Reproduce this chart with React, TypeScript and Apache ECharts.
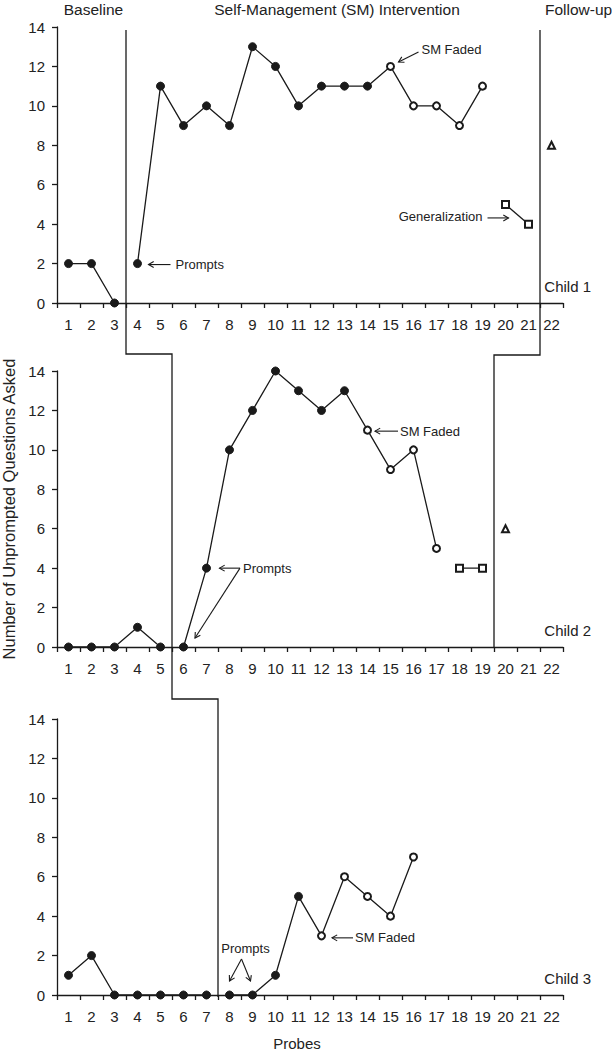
import React, { useEffect, useRef } from 'react';
import * as echarts from 'echarts';

// Probe numbers (x-axis categories)
const probes = ['1', '2', '3', '4', '5', '6', '7', '8', '9', '10', '11', '12', '13', '14', '15', '16', '17', '18', '19', '20', '21', '22'];

// Child 1
const c1Baseline = [2, 2, 0];
const c1Prompted = [2, 11, 9, 10, 9, 13, 12, 10, 11, 11, 11];
const c1Faded = [12, 10, 10, 9, 11];
const c1General = [5, 4];
const c1Follow = [8];
const c1Starts = [1, 4, 15, 20, 22]; // first probe of baseline, prompted, faded, generalization, follow-up

// Child 2
const c2Baseline = [0, 0, 0, 1, 0];
const c2Prompted = [0, 4, 10, 12, 14, 13, 12, 13];
const c2Faded = [11, 9, 10, 5];
const c2General = [4, 4];
const c2Follow = [6];
const c2Starts = [1, 6, 14, 18, 20];

// Child 3
const c3Baseline = [1, 2, 0, 0, 0, 0, 0];
const c3Prompted = [0, 0, 1, 5];
const c3Faded = [3, 6, 5, 4, 7];
const c3General: number[] = [];
const c3Follow: number[] = [];
const c3Starts = [1, 8, 12, 17, 17];

const childLabels = ['Child 1', 'Child 2', 'Child 3'];
const phaseTitles = ['Baseline', 'Self-Management (SM) Intervention', 'Follow-up'];

const children = [
  { b: c1Baseline, p: c1Prompted, f: c1Faded, g: c1General, u: c1Follow, s: c1Starts },
  { b: c2Baseline, p: c2Prompted, f: c2Faded, g: c2General, u: c2Follow, s: c2Starts },
  { b: c3Baseline, p: c3Prompted, f: c3Faded, g: c3General, u: c3Follow, s: c3Starts },
];

const INK = '#1a1a1a';
const FONT = '"Liberation Sans", Arial, sans-serif';
const gridTops = [27, 371, 719];
const gridHeight = 276;

const pairs = (vals: number[], start: number) => vals.map((v, i) => [String(start + i), v]);

function buildOption() {
  const grid = gridTops.map((top) => ({
    left: 57,
    right: 49,
    top,
    height: gridHeight,
    containLabel: false,
    outerBoundsMode: 'none',
  }));
  const xAxis = children.map((_, k) => ({
    type: 'category',
    gridIndex: k,
    data: probes,
    boundaryGap: true,
    axisLine: { show: true, lineStyle: { color: INK, width: 1.3 } },
    axisTick: { show: true, length: 5, lineStyle: { color: INK, width: 1.3 } },
    axisLabel: { color: '#222', fontSize: 15, fontFamily: FONT, margin: 14, interval: 0 },
    splitLine: { show: false },
  }));
  const yAxis = children.map((_, k) => ({
    type: 'value',
    gridIndex: k,
    min: 0,
    max: 14,
    interval: 2,
    axisLine: { show: true, lineStyle: { color: INK, width: 1.3 } },
    axisTick: { show: true, length: 5, lineStyle: { color: INK, width: 1.3 } },
    axisLabel: { color: '#222', fontSize: 15, fontFamily: FONT, margin: 12 },
    splitLine: { show: false },
    ...(k === 1
      ? {
          name: 'Number of Unprompted Questions Asked',
          nameLocation: 'middle',
          nameGap: 37,
          nameRotate: 90,
          nameTextStyle: { color: '#222', fontSize: 16.5, fontFamily: FONT },
        }
      : {}),
  }));
  const series: any[] = [];
  children.forEach((c, k) => {
    const common = {
      type: 'line',
      xAxisIndex: k,
      yAxisIndex: k,
      lineStyle: { color: INK, width: 1.3 },
      itemStyle: { color: INK, borderColor: INK },
      emphasis: { disabled: true },
    };
    series.push({ ...common, name: 'Baseline', symbol: 'circle', symbolSize: 8, data: pairs(c.b, c.s[0]) });
    series.push({
      ...common,
      name: 'Intervention',
      symbol: 'circle',
      symbolSize: 8,
      data: [
        ...pairs(c.p, c.s[1]),
        ...pairs(c.f, c.s[2]).map((d) => ({ value: d, symbol: 'emptyCircle', symbolSize: 7 })),
      ],
    });
    if (c.g.length) {
      series.push({ ...common, name: 'Generalization', symbol: 'emptyRect', symbolSize: 7, data: pairs(c.g, c.s[3]) });
    }
    if (c.u.length) {
      series.push({ ...common, name: 'Follow-up', symbol: 'emptyTriangle', symbolSize: 7, data: pairs(c.u, c.s[4]) });
    }
  });
  return { animation: false, backgroundColor: '#fff', grid, xAxis, yAxis, series };
}

function buildGraphic(chart: any) {
  const px = (k: number, probe: number, v: number) =>
    chart.convertToPixel({ xAxisIndex: k, yAxisIndex: k }, [probe - 1, v]) as number[];
  const boundaryX = (k: number, afterProbe: number) =>
    (px(k, afterProbe, 0)[0] + px(k, afterProbe + 1, 0)[0]) / 2;
  const lineStyle = { stroke: INK, lineWidth: 1.3, fill: null };
  const g: any[] = [];

  const arrow = (x1: number, y1: number, x2: number, y2: number) => {
    const ang = Math.atan2(y2 - y1, x2 - x1);
    const L = 6;
    const a = Math.PI / 6;
    g.push({ type: 'line', shape: { x1, y1, x2, y2 }, style: { stroke: INK, lineWidth: 1.1 } });
    g.push({
      type: 'polyline',
      shape: {
        points: [
          [x2 - L * Math.cos(ang - a), y2 - L * Math.sin(ang - a)],
          [x2, y2],
          [x2 - L * Math.cos(ang + a), y2 - L * Math.sin(ang + a)],
        ],
      },
      style: { stroke: INK, lineWidth: 1.1, fill: null },
    });
  };
  const text = (x: number, y: number, t: string, size: number, align = 'left') =>
    g.push({
      type: 'text',
      x,
      y,
      style: { text: t, fontSize: size, fontFamily: FONT, fill: '#222', align, verticalAlign: 'middle' },
    });

  const topY = px(0, 1, 13.85)[1];
  const stepY = [px(1, 1, 14)[1] - 17, px(2, 1, 14)[1] - 20];
  const axisY = children.map((_, k) => px(k, 1, 0)[1]);

  // Baseline -> intervention phase line (staircase)
  const bx = children.map((c, k) => boundaryX(k, c.s[1] - 1));
  g.push({
    type: 'polyline',
    shape: {
      points: [
        [bx[0], topY],
        [bx[0], stepY[0]],
        [bx[1], stepY[0]],
        [bx[1], stepY[1]],
        [bx[2], stepY[1]],
        [bx[2], axisY[2] + 2],
      ],
    },
    style: lineStyle,
  });
  // Intervention -> follow-up phase line
  const fx = [boundaryX(0, c1Starts[4] - 1), boundaryX(1, c2Starts[4] - 1)];
  g.push({
    type: 'polyline',
    shape: {
      points: [
        [fx[0], topY],
        [fx[0], stepY[0] + 1],
        [fx[1], stepY[0] + 1],
        [fx[1], axisY[1]],
      ],
    },
    style: lineStyle,
  });

  // Phase titles
  const titleY = 9;
  text((57 + bx[0]) / 2 + 2, titleY, phaseTitles[0], 15.5, 'center');
  text((bx[0] + fx[0]) / 2 + 4, titleY, phaseTitles[1], 15.5, 'center');
  text(fx[0] + 5, titleY, phaseTitles[2], 15.5, 'left');

  // Child labels
  children.forEach((_, k) => text(591, axisY[k] - 17, childLabels[k], 15, 'right'));

  // Probes label
  text(297, 1043, 'Probes', 15, 'center');

  // ---- Annotations: Child 1
  let p = px(0, 4, 2);
  arrow(p[0] + 33, p[1] + 1, p[0] + 11, p[1] + 1);
  text(p[0] + 38, p[1] + 1, 'Prompts', 13);
  p = px(0, 15, 12);
  arrow(p[0] + 28, p[1] - 14.5, p[0] + 8, p[1] - 4.5);
  text(p[0] + 31, p[1] - 16.5, 'SM Faded', 13);
  p = px(0, 20, 5);
  arrow(p[0] - 18, p[1] + 13.5, p[0] + 3, p[1] + 13.5);
  text(p[0] - 23, p[1] + 12.5, 'Generalization', 13, 'right');

  // ---- Child 2
  p = px(1, 7, 4);
  const vx = p[0] + 33.5;
  arrow(vx, p[1], p[0] + 13, p[1]);
  const p6 = px(1, 6, 0);
  arrow(vx, p[1], p6[0] + 11.5, p6[1] - 9);
  text(vx + 3, p[1], 'Prompts', 13);
  p = px(1, 14, 11);
  arrow(p[0] + 30.5, p[1] + 1, p[0] + 7.5, p[1] + 1);
  text(p[0] + 32.5, p[1] + 1, 'SM Faded', 13);

  // ---- Child 3
  const p8 = px(2, 8, 0);
  const p9 = px(2, 9, 0);
  const apexX = (p8[0] + p9[0]) / 2 + 0.5;
  arrow(apexX, p8[1] - 36, p8[0], p8[1] - 14);
  arrow(apexX, p8[1] - 36, p9[0] - 2, p8[1] - 14);
  text(apexX + 4, p8[1] - 47, 'Prompts', 13, 'center');
  p = px(2, 12, 3);
  arrow(p[0] + 31.5, p[1] + 2, p[0] + 10.5, p[1] + 2);
  text(p[0] + 33.5, p[1] + 2, 'SM Faded', 13);

  return g;
}

export default function App() {
  const ref = useRef<HTMLDivElement>(null);
  useEffect(() => {
    const chart = echarts.init(ref.current!, null, { renderer: 'svg' });
    chart.setOption(buildOption() as any);
    chart.setOption({ graphic: buildGraphic(chart) } as any);
    return () => chart.dispose();
  }, []);
  return (
    <div
      ref={ref}
      style={{ position: 'absolute', left: 0, top: 0, width: 612, height: 1050, background: '#fff' }}
    />
  );
}
